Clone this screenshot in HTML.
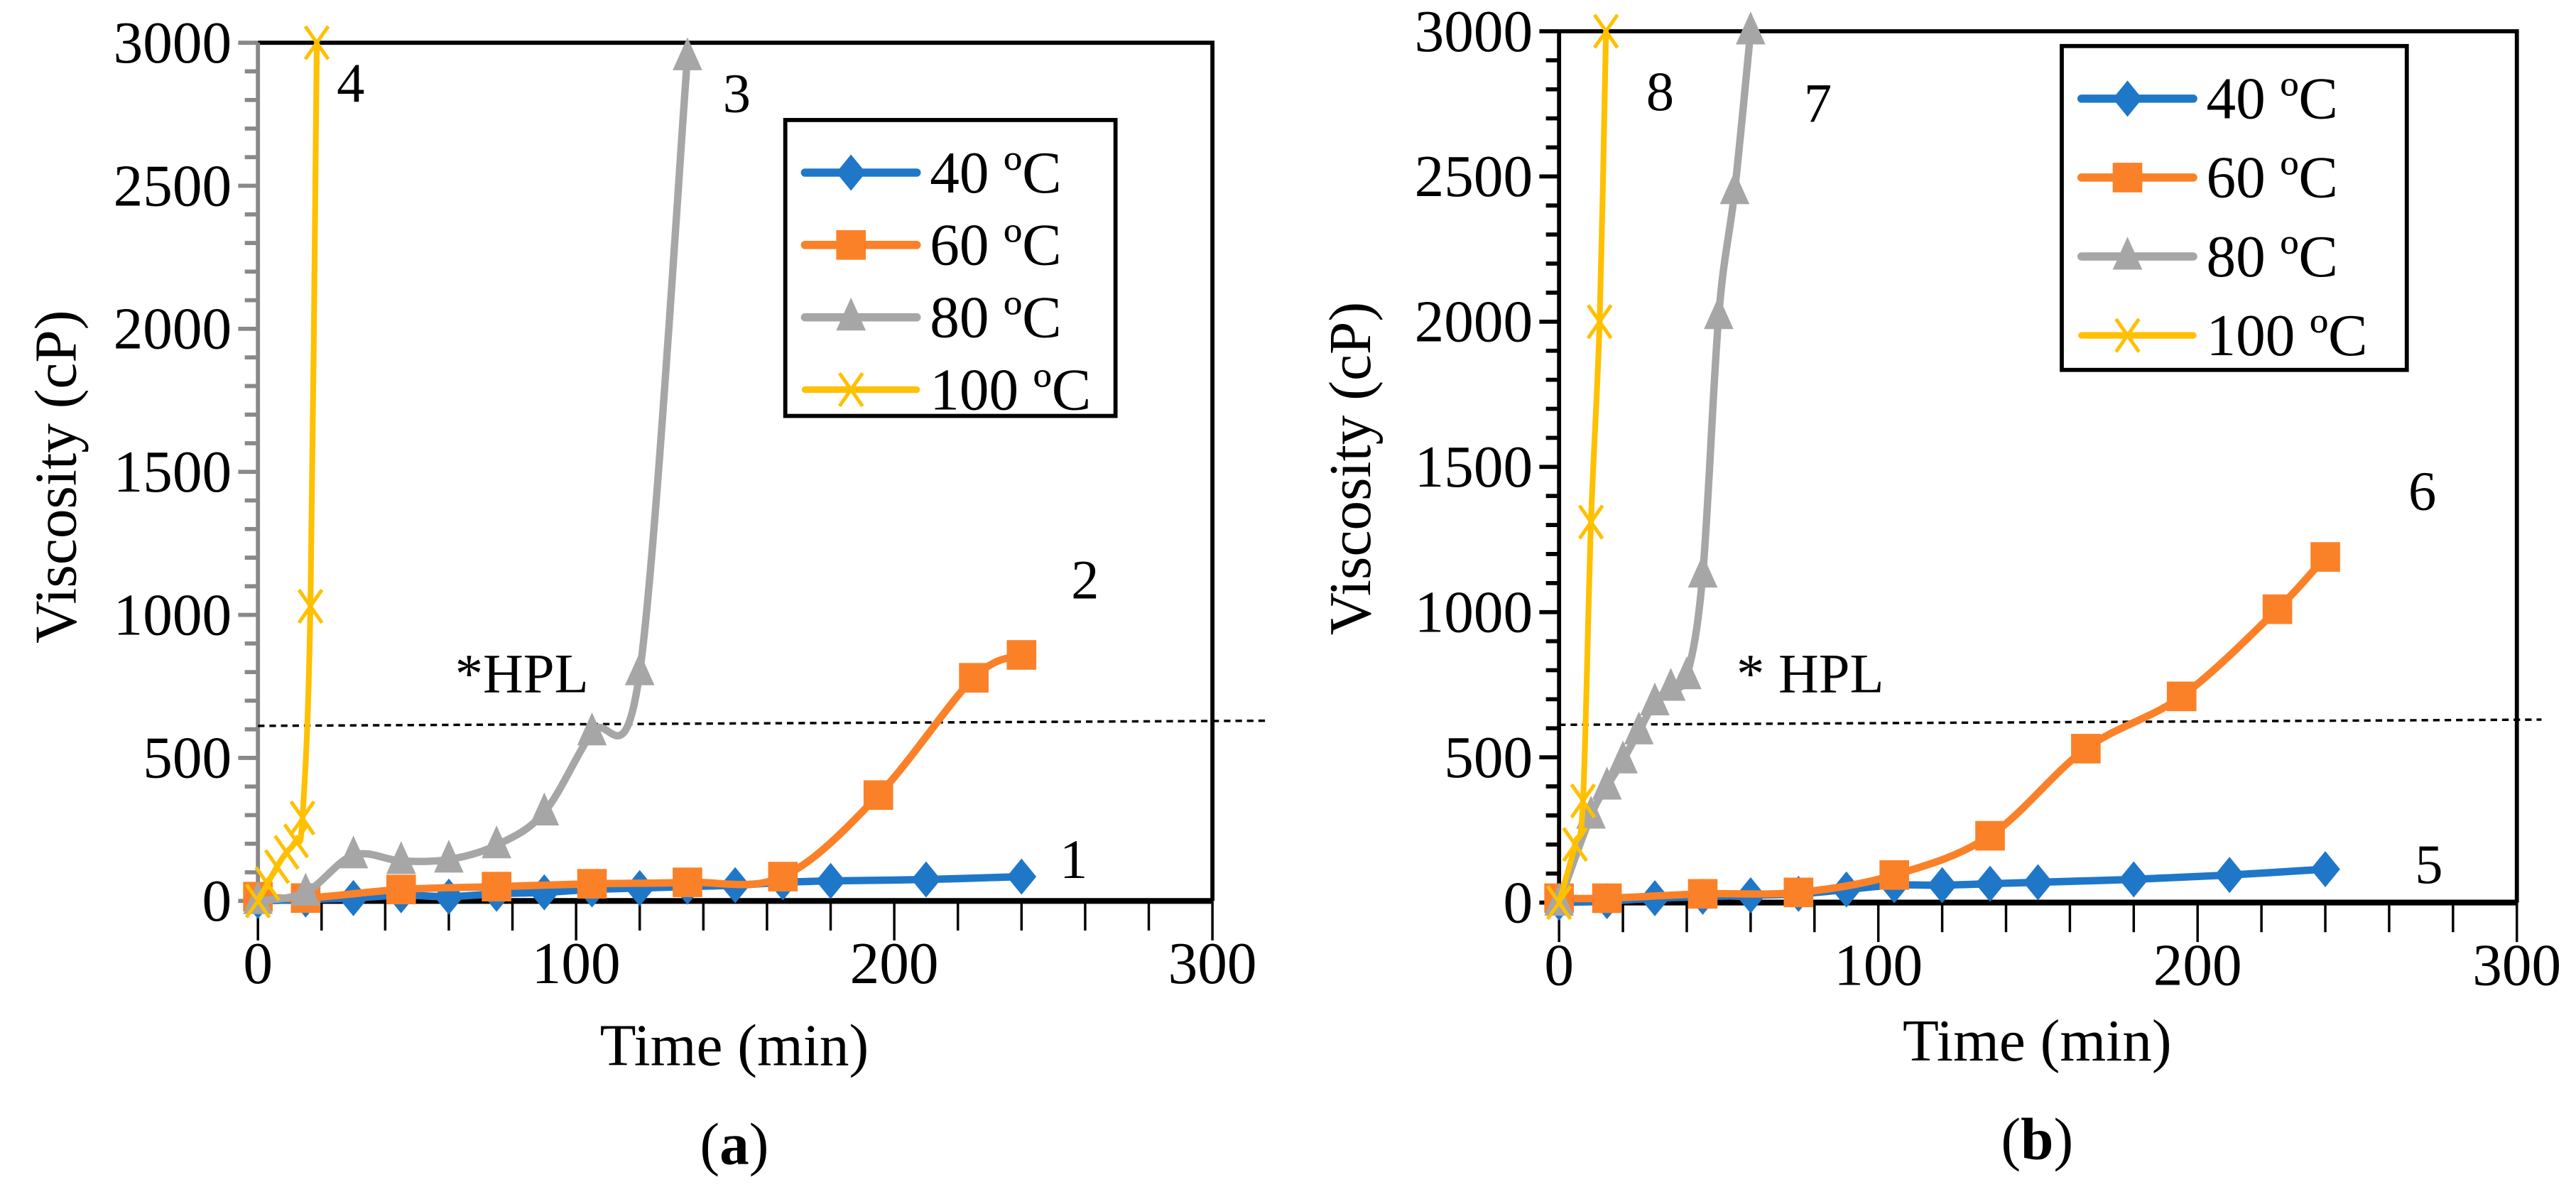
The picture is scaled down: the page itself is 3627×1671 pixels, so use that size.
<!DOCTYPE html>
<html><head><meta charset="utf-8"><style>
html,body{margin:0;padding:0;background:#fff;}
svg{display:block;font-family:"Liberation Serif","Times New Roman",serif;}
svg text{font-family:"Liberation Serif","Times New Roman",serif;fill:#000;}
</style></head><body>
<svg id="fig" xmlns="http://www.w3.org/2000/svg" width="3627" height="1671" viewBox="0 0 1568 722" preserveAspectRatio="none" font-family="Liberation Serif, serif">
<g id="chartA"></g>
<g id="chartB"></g>
</svg>
<script>
// Chart (a) data
const a40t=[0,15,30,45,60,75,90,105,120,135,150,165,180,210,240];
const a40v=[0,5,10,20,15,25,30,40,45,50,55,65,70,75,85];
const a60t=[0,15,45,75,105,135,165,195,225,240];
const a60v=[15,10,40,50,60,65,85,370,780,860];
const a80t=[0,15,30,45,60,75,90,105,120,135];
const a80v=[0,30,160,140,145,195,310,590,800,2950];
const a100t=[0,3,6,9,12,14,16.5,18.5];
const a100v=[0,60,120,170,210,290,1030,3000];
// Chart (b) data
const b40t=[0,15,30,45,60,75,90,105,120,135,150,180,210,240];
const b40v=[0,5,15,20,25,30,45,60,60,65,70,80,95,115];
const b60t=[0,15,45,75,105,135,165,195,225,240];
const b60v=[15,15,30,35,95,230,530,710,1010,1190];
const b80t=[0,10,15,20,25,30,35,40,45,50,55,60];
const b80v=[0,300,400,490,590,690,740,780,1130,2020,2450,3000];
const b100t=[0,5,7.5,10,12.7,14.7];
const b100v=[0,200,350,1310,2000,3000];
const yTicks=[0,500,1000,1500,2000,2500,3000];
const xTicks=[0,100,200,300];
const legendLabels=["40 ºC","60 ºC","80 ºC","100 ºC"];
const hplValue=[612,630];

const NS="http://www.w3.org/2000/svg";
const FF='"Liberation Serif", "Times New Roman", serif';
function mk(parent,tag,attrs,txt){const e=document.createElementNS(NS,tag);for(const k in attrs)e.setAttribute(k,attrs[k]);if(tag==='text'){e.setAttribute('font-family',FF);}if(txt!==undefined)e.textContent=txt;parent.appendChild(e);return e;}
function smooth(pts){let d=`M${pts[0][0]},${pts[0][1]}`;for(let i=0;i<pts.length-1;i++){const p0=pts[i-1]||pts[i],p1=pts[i],p2=pts[i+1],p3=pts[i+2]||p2;const k=1/6;d+=` C${p1[0]+(p2[0]-p0[0])*k},${p1[1]+(p2[1]-p0[1])*k} ${p2[0]-(p3[0]-p1[0])*k},${p2[1]-(p3[1]-p1[1])*k} ${p2[0]},${p2[1]}`;}return d;}
function marker(g,type,x,y,col){
 let m;
 if(type==='d')m=mk(g,'polygon',{points:`${x},${y-11} ${x+9},${y} ${x},${y+11} ${x-9},${y}`,fill:col});
 else if(type==='s')m=mk(g,'rect',{x:x-9,y:y-9,width:18,height:18,fill:col});
 else if(type==='t')m=mk(g,'polygon',{points:`${x},${y-12} ${x+9},${y+8} ${x-9},${y+8}`,fill:col});
 else m=mk(g,'path',{d:`M${x-7},${y-10}L${x+7},${y+10}M${x+7},${y-10}L${x-7},${y+10}`,stroke:col,'stroke-width':2.2,fill:'none'});
 return m;
}
const cols=['#1f77c8','#fb8128','#a6a6a6','#ffc000'];
const types=['d','s','t','x'];

function chart(g,cfg){
 const X=t=>cfg.x0+(cfg.x1-cfg.x0)*t/300;
 const Y=v=>cfg.y0+(cfg.y1-cfg.y0)*v/3000;
 const fr=mk(g,'path',{d:`M${X(0)},${Y(3000)}H${X(300)}V${Y(0)}`,stroke:'#000','stroke-width':2.5,fill:'none'});
 
 const ya=mk(g,'line',{x1:X(0),y1:Y(0),x2:X(0),y2:Y(3000),stroke:cfg.yAxisCol,'stroke-width':2.5});
 
 for(let v=0;v<=3000;v+=100){const maj=v%500===0;mk(g,'line',{x1:X(0)-(maj?12:8),x2:X(0),y1:Y(v),y2:Y(v),stroke:cfg.yAxisCol,'stroke-width':2.5});}
 yTicks.forEach(v=>{const t=mk(g,'text',{x:X(0)-16,y:Y(v)+12,'text-anchor':'end','font-size':36},String(v));});
 const xa=mk(g,'line',{x1:X(0)-8,y1:Y(0),x2:X(300),y2:Y(0),stroke:'#000','stroke-width':3.5});
 
 for(let t=0;t<=300;t+=20){const maj=t%100===0;mk(g,'line',{x1:X(t),x2:X(t),y1:Y(0),y2:Y(0)+(maj?24:18),stroke:'#000','stroke-width':1.5});}
 xTicks.forEach(t=>{const e=mk(g,'text',{x:X(t),y:Y(0)+50,'text-anchor':'middle','font-size':36},String(t));});
 const h=mk(g,'line',{x1:X(0),y1:Y(hplValue[0]),x2:cfg.hplEnd,y2:Y(hplValue[1]),stroke:'#000','stroke-width':1.5,'stroke-dasharray':'4,3'});
 
 const ht=mk(g,'text',{x:cfg.hplText[0],y:cfg.hplText[1],'font-size':34},cfg.hplLabel);
 
 cfg.series.forEach((s,i)=>{
  const sg=mk(g,'g',{});
  
  
  const pts=s[0].map((t,j)=>[X(t),Y(s[1][j])]);
  mk(sg,'path',{d:smooth(pts),stroke:cols[i],'stroke-width':i===3?3.5:4.5,fill:'none','stroke-linejoin':'round'});
  pts.forEach(p=>{const m=marker(sg,types[i],p[0],p[1],cols[i]);});
 });
 cfg.nums.forEach(n=>{const e=mk(g,'text',{x:n[1],y:n[2],'font-size':34},n[0]);});
 const lg=mk(g,'g',{});
 
 const L=cfg.leg;
 mk(lg,'rect',{x:L[0],y:L[1],width:L[2],height:L[3],fill:'#fff',stroke:'#000','stroke-width':2.5});
 legendLabels.forEach((lab,i)=>{
  const eg=mk(lg,'g',{});
  
  const yy=L[1]+32+i*cfg.legStep;
  mk(eg,'line',{x1:L[0]+12,x2:L[0]+80,y1:yy,y2:yy,stroke:cols[i],'stroke-width':i===3?4:5,'stroke-linecap':'round'});
  marker(eg,types[i],L[0]+40,yy,cols[i]);
  mk(eg,'text',{x:L[0]+88,y:yy+12,'font-size':36},lab);
 });
 const yt=mk(g,'text',{x:0,y:0,'font-size':36,'text-anchor':'middle',transform:`translate(${cfg.yTitle[0]},${cfg.yTitle[1]}) rotate(-90)`},'Viscosity (cP)');
 
 const xt=mk(g,'text',{x:cfg.xTitle[0],y:cfg.xTitle[1],'font-size':36,'text-anchor':'middle'},'Time (min)');
 
 const pl=mk(g,'text',{x:cfg.xTitle[0],y:cfg.xTitle[1]+60,'font-size':36,'text-anchor':'middle'});
 
 mk(pl,'tspan',{},'(');mk(pl,'tspan',{'font-weight':'bold'},cfg.panel);mk(pl,'tspan',{},')');
}

chart(document.getElementById('chartA'),{x0:157,x1:738,y0:548,y1:26,yAxisCol:'#888',hplEnd:772,hplText:[277,421],hplLabel:'*HPL',
 series:[[a40t,a40v],[a60t,a60v],[a80t,a80v],[a100t,a100v]],
 nums:[['4',205,62],['3',440,68],['2',652,364],['1',645,534]],
 leg:[478,73,201,180],legStep:44,yTitle:[46,290],xTitle:[447,648],panel:'a'});
chart(document.getElementById('chartB'),{x0:949,x1:1532,y0:549,y1:19,yAxisCol:'#000',hplEnd:1547,hplText:[1057,421],hplLabel:'* HPL',
 series:[[b40t,b40v],[b60t,b60v],[b80t,b80v],[b100t,b100v]],
 nums:[['8',1002,67],['7',1098,74],['6',1466,310],['5',1470,537]],
 leg:[1255,28,210,197],legStep:48,yTitle:[834,285],xTitle:[1240,645],panel:'b'});
</script>
</body></html>
